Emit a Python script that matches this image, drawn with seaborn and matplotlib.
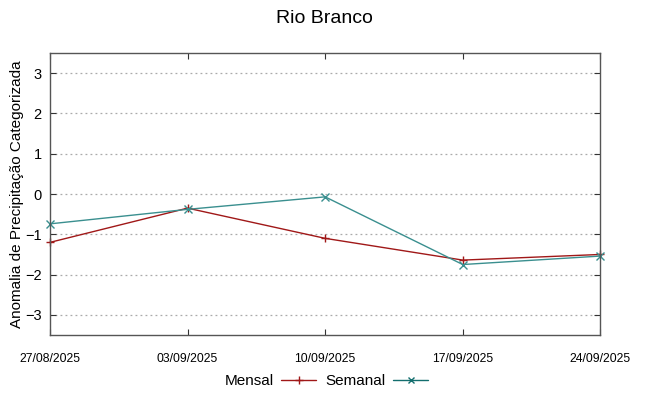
import numpy as np
import pandas as pd
import seaborn as sns
import matplotlib.pyplot as plt
from matplotlib.lines import Line2D

datas = ['27/08/2025', '03/09/2025', '10/09/2025', '17/09/2025', '24/09/2025']
mensal = [-1.20, -0.35, -1.10, -1.64, -1.50]
semanal = [-0.74, -0.38, -0.07, -1.75, -1.54]

sns.set_style('white')
plt.rcParams['font.family'] = ['Liberation Sans', 'DejaVu Sans']
plt.rcParams['text.color'] = 'black'
plt.rcParams['axes.labelcolor'] = 'black'
plt.rcParams['xtick.color'] = 'black'
plt.rcParams['ytick.color'] = 'black'

fig = plt.figure(figsize=(6.49, 3.96), dpi=100)
ax = fig.add_axes([0.077, 0.154, 0.848, 0.712])

pos = np.arange(len(datas))
df = pd.DataFrame({'x': np.concatenate([pos, pos]),
                   'valor': mensal + semanal,
                   'serie': ['Mensal'] * len(datas) + ['Semanal'] * len(datas)})

cores = {'Mensal': '#a01818', 'Semanal': '#3a8f8f'}
sns.lineplot(data=df, x='x', y='valor', hue='serie', style='serie',
             markers={'Mensal': '+', 'Semanal': 'x'}, dashes=False,
             palette=cores, linewidth=1.0, markersize=6,
             ax=ax, legend=False)
# marcadores de linha: cor de borda igual à linha, sem corte nas bordas
for ln in ax.lines:
    ln.set_markeredgecolor(ln.get_color())
    ln.set_markeredgewidth(1.0)
    ln.set_clip_on(False)

ax.set_xlim(0, len(datas) - 1)
ax.set_ylim(-3.5, 3.5)
ax.set_yticks(range(-3, 4))
ax.set_xticks(pos)
ax.set_xticklabels(datas, fontsize=8.8)
ax.tick_params(axis='y', labelsize=10.5, pad=6)
ax.tick_params(axis='x', pad=13)
ax.tick_params(direction='in', length=4, color='#333333', top=True, right=True,
               left=True, bottom=True)
ax.set_xlabel('')
ax.set_ylabel('Anomalia de Precipitação Categorizada', fontsize=11)
ax.yaxis.set_label_coords(-0.047, 0.5)
ax.grid(True, axis='y', linestyle=(0, (1.5, 2.5)), color='#aaaaaa', linewidth=0.9)
for s in ax.spines.values():
    s.set_color('#555555')
    s.set_linewidth(1.0)

fig.suptitle('Rio Branco', fontsize=14, y=0.975)

handles = [Line2D([], [], color=cores['Mensal'], marker='+', lw=1.0, ms=6),
           Line2D([], [], color='#136e6e', marker='x', lw=1.0, ms=5)]
fig.legend(handles, ['Mensal', 'Semanal'], loc='center', bbox_to_anchor=(0.503, 0.037),
           ncol=2, frameon=False, markerfirst=False, fontsize=11,
           handlelength=2.3, columnspacing=0.6, handletextpad=0.5)

fig.savefig('out.png', dpi=100)
